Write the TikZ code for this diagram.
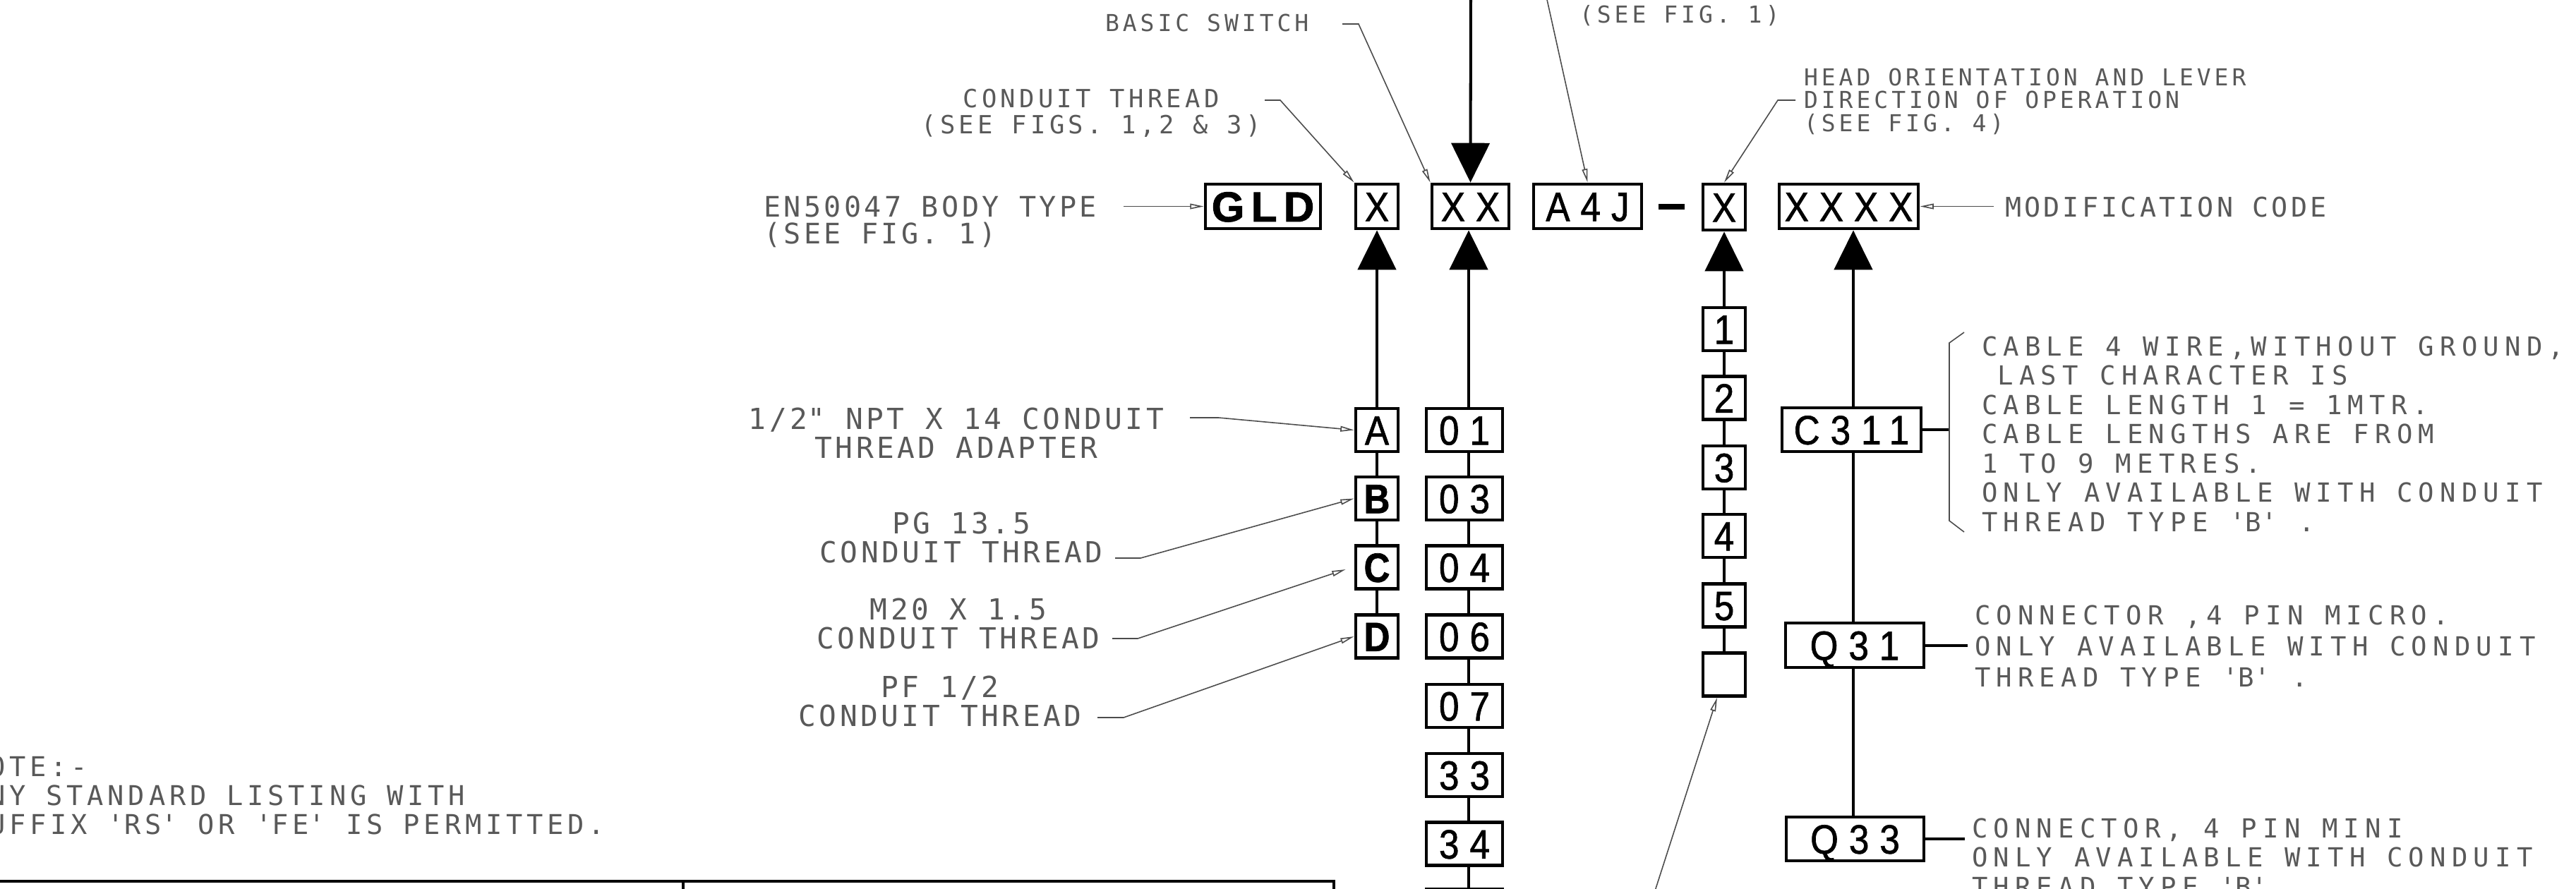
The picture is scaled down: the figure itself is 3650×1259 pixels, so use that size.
\documentclass[tikz,border=0pt]{standalone}
\usepackage{fontspec}
\usetikzlibrary{arrows.meta,calc}
\newfontfamily\cadfa{DejaVu Sans Mono}[LetterSpace=11]
\newfontfamily\cadfb{DejaVu Sans Mono}[LetterSpace=15]
\newfontfamily\cadfc{DejaVu Sans Mono}[LetterSpace=22]
\newfontfamily\boxfont{Liberation Sans}[FakeStretch=0.88,LetterSpace=26,FakeBold=1.2]
\newfontfamily\gldfont{Liberation Sans}[LetterSpace=16,FakeBold=1.6]
\tikzset{
  codebox/.style={draw, line width=1.35pt, fill=white, inner sep=0pt,
    minimum height=0.62cm, text height=11.8pt, text depth=0pt,
    font=\boxfont\fontsize{16.5pt}{16.5pt}\selectfont},
  boldbox/.style={codebox, font=\boxfont\fontsize{16.5pt}{16.5pt}\selectfont\bfseries},
  gldbox/.style={codebox, font=\gldfont\fontsize{17pt}{17pt}\selectfont\bfseries, text height=12.2pt},
  smallbox/.style={minimum width=0.60cm, minimum height=0.61cm},
  numbox/.style={codebox, minimum width=1.08cm, minimum height=0.61cm},
  mainline/.style={line width=1.15pt},
  bigtip/.style={-{Triangle[length=15.9pt,width=15.4pt]}},
  leader/.style={draw=black!70, line width=0.45pt, -{Triangle[open,length=5.5pt,width=2.2pt]}},
  thinline/.style={draw=black!70, line width=0.45pt},
  cadtext/.style={inner sep=0pt, outer sep=0pt, text=black!65},
  cadA/.style={cadtext, font=\cadfa\fontsize{11.7pt}{11.4pt}\selectfont},
  cadB/.style={cadtext, font=\cadfb\fontsize{9.4pt}{9.2pt}\selectfont},
  cadC/.style={cadtext, font=\cadfc\fontsize{10.6pt}{11.8pt}\selectfont},
}
\begin{document}
\begin{tikzpicture}[x=0.01cm,y=-0.01cm]
\useasboundingbox (0,0) rectangle (3650,1259);
\clip (0,0) rectangle (3650,1259);

% ---------- main code row ----------
\node[gldbox, minimum width=1.63cm, minimum height=0.63cm] (GLD) at (1789.5,292.5) {GLD};
\node[codebox, minimum width=0.60cm, minimum height=0.63cm] (X1) at (1951,292.5) {X};
\node[codebox, minimum width=1.09cm, minimum height=0.63cm] (XX) at (2083.5,292.5) {XX};
\node[codebox, minimum width=1.53cm, minimum height=0.63cm] (A4J) at (2249.5,292.5) {A4J};
\node[fill=black, inner sep=0pt, minimum width=0.37cm, minimum height=0.08cm] (dash) at (2368.5,293) {};
\node[codebox, minimum width=0.60cm, minimum height=0.65cm] (X4) at (2443,293.5) {X};
\node[codebox, minimum width=1.97cm, minimum height=0.63cm] (XXXX) at (2619.5,292.5) {XXXX};

% ---------- conduit thread column ----------
\node[codebox, smallbox] (A) at (1951,609.5) {A};
\node[boldbox, smallbox] (B) at (1951,706.5) {B};
\node[boldbox, smallbox] (C) at (1951,804) {C};
\node[boldbox, smallbox] (D) at (1951,902) {D};

% ---------- basic switch column ----------
\node[numbox] (o01) at (2075,609.5) {01};
\node[numbox] (o03) at (2075,706.5) {03};
\node[numbox] (o04) at (2075,804) {04};
\node[numbox] (o06) at (2075,902) {06};
\node[numbox] (o07) at (2075,1000.5) {07};
\node[numbox] (o33) at (2075,1098.5) {33};
\node[numbox] (o34) at (2075,1196) {34};
\node[numbox] (o35) at (2075,1291) {};

% ---------- head orientation column ----------
\node[codebox, smallbox] (n1) at (2443,466.5) {1};
\node[codebox, smallbox] (n2) at (2443,564) {2};
\node[codebox, smallbox] (n3) at (2443,662.5) {3};
\node[codebox, smallbox] (n4) at (2443,759.5) {4};
\node[codebox, smallbox] (n5) at (2443,858) {5};
\node[codebox, smallbox] (n6) at (2443,956) {};

% ---------- modification column ----------
\node[codebox, minimum width=1.97cm, minimum height=0.62cm] (C311) at (2623.5,609) {C311};
\node[codebox, minimum width=1.96cm, minimum height=0.63cm] (Q31) at (2628,914.5) {Q31};
\node[codebox, minimum width=1.95cm, minimum height=0.62cm] (Q33) at (2628.5,1189) {Q33};

% ---------- connectors ----------
\coordinate (colL) at (2081,0);
\coordinate (colR) at (2626,0);
\coordinate (swtop) at (2084,-20);
\draw[mainline,bigtip] (swtop) -- (XX.north);
\draw[mainline,bigtip] (A.north) -- (X1.south);
\draw[mainline] (A.south) -- (B.north);
\draw[mainline] (B.south) -- (C.north);
\draw[mainline] (C.south) -- (D.north);
\draw[mainline,bigtip] (o01.north -| colL) -- (XX.south -| colL);
\draw[mainline] (o01.south -| colL) -- (o03.north -| colL);
\draw[mainline] (o03.south -| colL) -- (o04.north -| colL);
\draw[mainline] (o04.south -| colL) -- (o06.north -| colL);
\draw[mainline] (o06.south -| colL) -- (o07.north -| colL);
\draw[mainline] (o07.south -| colL) -- (o33.north -| colL);
\draw[mainline] (o33.south -| colL) -- (o34.north -| colL);
\draw[mainline] (o34.south -| colL) -- (o35.north -| colL);
\draw[mainline,bigtip] (n1.north) -- (X4.south);
\draw[mainline] (n1.south) -- (n2.north);
\draw[mainline] (n2.south) -- (n3.north);
\draw[mainline] (n3.south) -- (n4.north);
\draw[mainline] (n4.south) -- (n5.north);
\draw[mainline] (n5.south) -- (n6.north);
\draw[mainline,bigtip] (C311.north -| colR) -- (XXXX.south -| colR);
\draw[mainline] (C311.south -| colR) -- (Q31.north -| colR);
\draw[mainline] (Q31.south -| colR) -- (Q33.north -| colR);

% side stubs and brace
\coordinate (brmid) at (2762,609);
\coordinate (brt1) at (2783,471);
\coordinate (brt2) at (2762,486);
\coordinate (brb1) at (2762,738);
\coordinate (brb2) at (2783,754);
\coordinate (q31t) at (2788,914.5);
\coordinate (q33t) at (2784,1189);
\draw[mainline] (C311.east) -- (brmid);
\draw[thinline] (brt1) -- (brt2) -- (brb1) -- (brb2);
\draw[mainline] (Q31.east) -- (q31t);
\draw[mainline] (Q33.east) -- (q33t);

% ---------- leaders ----------
\coordinate (lEN) at (1592,292.5);
\draw[leader] (lEN) -- (GLD.west);
\coordinate (lCT1) at (1792,142);
\coordinate (lCT2) at (1814,142);
\draw[leader] (lCT1) -- (lCT2) -- (X1.north west);
\coordinate (lBS1) at (1902,34);
\coordinate (lBS2) at (1925,34);
\draw[leader] (lBS1) -- (lBS2) -- (XX.north west);
\coordinate (lA4J) at (2191,-5);
\draw[leader] (lA4J) -- (A4J.north);
\coordinate (lHO1) at (2544,142);
\coordinate (lHO2) at (2519,142);
\draw[leader] (lHO1) -- (lHO2) -- (X4.north);
\coordinate (lMC) at (2825,292.5);
\draw[leader] (lMC) -- (XXXX.east);
\coordinate (lNPT1) at (1686,592);
\coordinate (lNPT2) at (1727,592);
\draw[leader] (lNPT1) -- (lNPT2) -- (A.west);
\coordinate (lPG1) at (1580,791);
\coordinate (lPG2) at (1616,791);
\draw[leader] (lPG1) -- (lPG2) -- (B.west);
\coordinate (lM1) at (1576,905);
\coordinate (lM2) at (1612,905);
\coordinate (lMt) at ($(C.west)+(-12,3)$);
\draw[leader] (lM1) -- (lM2) -- (lMt);
\coordinate (lPF1) at (1555,1017);
\coordinate (lPF2) at (1592,1017);
\draw[leader] (lPF1) -- (lPF2) -- (D.west);
\coordinate (lBL) at (2341,1275);
\coordinate (lBLt) at ($(n6.south)+(-10,0)$);
\draw[leader] (lBL) -- (lBLt);

% ---------- texts (base anchor = baseline of last line) ----------
\node[cadB, anchor=base west] (tBS) at (1566,44) {BASIC SWITCH};
\node[cadB, font=\cadfb\fontsize{10.1pt}{10.3pt}\selectfont, align=center, anchor=base] (tCT) at (1546,189) {CONDUIT THREAD\\(SEE FIGS. 1,2 \& 3)};
\node[cadA, font=\cadfa\fontsize{11.4pt}{10.6pt}\selectfont, align=left, anchor=base west] (tEN) at (1082,345) {EN50047 BODY TYPE\\(SEE FIG. 1)};
\node[cadB, anchor=base west] (tSF) at (2238,32) {(SEE FIG. 1)};
\node[cadB, align=left, anchor=base west] (tHO) at (2556,186) {HEAD ORIENTATION AND LEVER\\DIRECTION OF OPERATION\\(SEE FIG. 4)};
\node[cadA, font=\cadfa\fontsize{10.9pt}{11pt}\selectfont, anchor=base west] (tMC) at (2841,307) {MODIFICATION CODE};
\node[cadA, align=center, anchor=base] (tNPT) at (1355,649) {1/2\textquotedbl{} NPT X 14 CONDUIT\\THREAD ADAPTER};
\node[cadA, align=center, anchor=base] (tPG) at (1362,797) {PG 13.5\\CONDUIT THREAD};
\node[cadA, align=center, anchor=base] (tM20) at (1358,919) {M20 X 1.5\\CONDUIT THREAD};
\node[cadA, align=center, anchor=base] (tPF) at (1332,1029) {PF 1/2\\CONDUIT THREAD};
\node[cadC, align=left, anchor=base west] (tC311) at (2808,753) {CABLE 4 WIRE,WITHOUT GROUND,\\\hphantom{X}LAST CHARACTER IS\\CABLE LENGTH 1 = 1MTR.\\CABLE LENGTHS ARE FROM\\1 TO 9 METRES.\\ONLY AVAILABLE WITH CONDUIT\\THREAD TYPE \textquotesingle B\textquotesingle\ .};
\node[cadC, font=\cadfc\fontsize{10.6pt}{12.5pt}\selectfont, align=left, anchor=base west] (tQ31) at (2798,973) {CONNECTOR ,4 PIN MICRO.\\ONLY AVAILABLE WITH CONDUIT\\THREAD TYPE \textquotesingle B\textquotesingle\ .};
\node[cadC, align=left, anchor=base west] (tQ33) at (2794,1270) {CONNECTOR, 4 PIN MINI\\ONLY AVAILABLE WITH CONDUIT\\THREAD TYPE \textquotesingle B\textquotesingle};
\node[cadB, font=\cadfb\fontsize{11pt}{11.6pt}\selectfont, align=left, anchor=base west] (tNote) at (-45,1182) {NOTE:-\\ANY STANDARD LISTING WITH\\SUFFIX \textquotesingle RS\textquotesingle\ OR \textquotesingle FE\textquotesingle\ IS PERMITTED.};

% ---------- table frame at bottom ----------
\coordinate (tbL) at (-10,1249);
\coordinate (tbR) at (1890,1249);
\coordinate (tbM) at (968,1249);
\coordinate (tbMb) at (968,1275);
\coordinate (tbRb) at (1890,1275);
\draw[line width=1.4pt] (tbL) -- (tbR) -- (tbRb);
\draw[line width=0.9pt] (tbM) -- (tbMb);
\end{tikzpicture}
\end{document}
